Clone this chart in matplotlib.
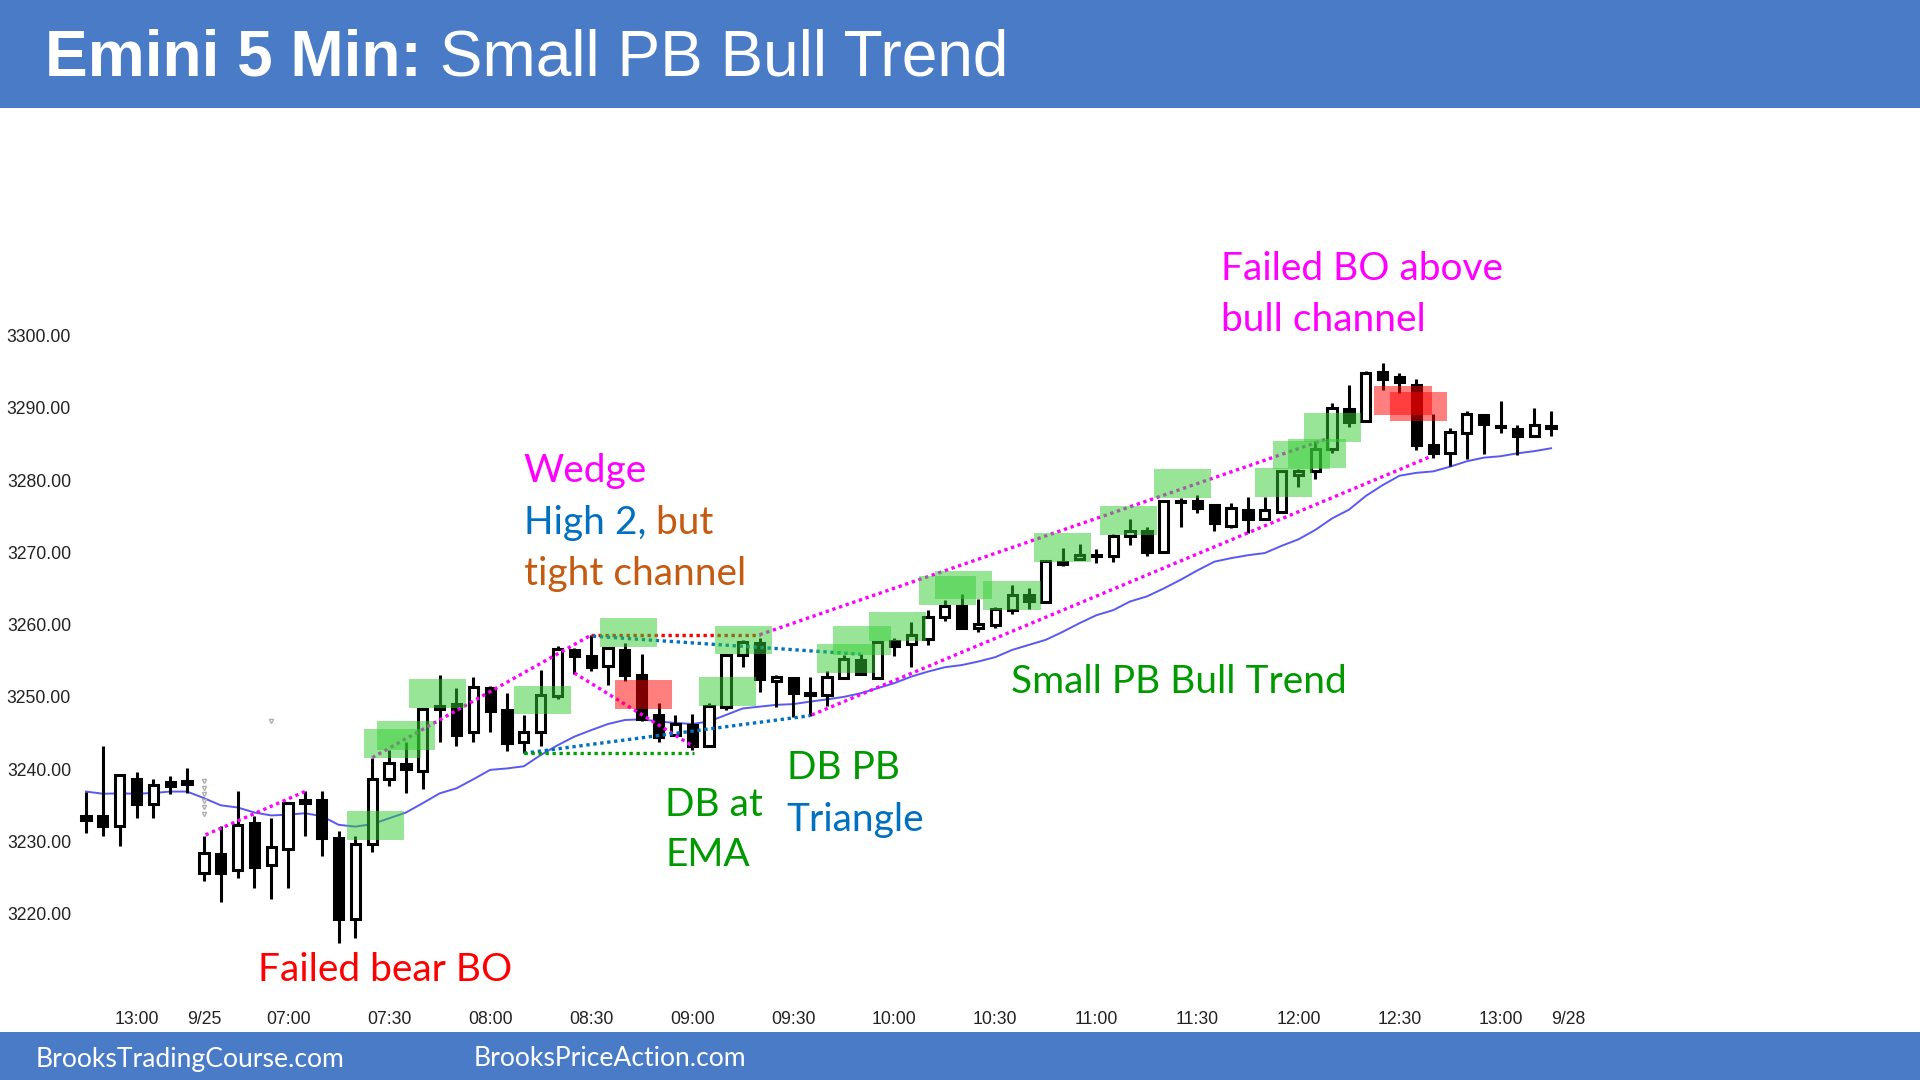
import numpy as np
import matplotlib
matplotlib.use("Agg")
import matplotlib.pyplot as plt
from matplotlib.patches import Rectangle
from matplotlib.text import Annotation

# 5 min bars (12:45 prev day .. 13:15)
opens = [3233.5, 3233.5, 3232.2, 3238.7, 3235.2, 3238.2, 3238.3, 3225.7, 3228.2, 3226.0,
         3232.6, 3226.8, 3229.0, 3235.3, 3235.7, 3230.5, 3219.3, 3229.6, 3238.6, 3240.7,
         3239.8, 3248.3, 3249.0, 3245.1, 3251.2, 3248.2, 3243.8, 3245.1, 3250.1, 3256.5,
         3255.7, 3254.3, 3256.5, 3253.0, 3247.5, 3244.7, 3246.1, 3243.2, 3248.6, 3255.8,
         3257.5, 3252.2, 3252.6, 3250.6, 3250.3, 3252.6, 3255.1, 3252.6, 3257.7, 3257.3,
         3258.0, 3261.1, 3262.6, 3259.6, 3260.0, 3262.0, 3264.1, 3263.1, 3268.7, 3269.1,
         3269.7, 3269.5, 3272.3, 3273.0, 3270.1, 3277.1, 3277.1, 3276.5, 3273.6, 3275.9,
         3274.6, 3275.6, 3280.7, 3281.3, 3284.3, 3289.9, 3288.2, 3295.0, 3294.2, 3293.1,
         3284.9, 3283.7, 3286.5, 3289.0, 3287.5, 3287.1, 3286.1, 3287.5]
highs = [3236.9, 3243.2, 3239.3, 3239.6, 3238.7, 3239.1, 3240.2, 3230.7, 3232.2, 3237.0,
         3233.5, 3233.2, 3235.3, 3237.0, 3237.0, 3231.5, 3230.7, 3241.6, 3242.6, 3243.7,
         3248.4, 3253.0, 3251.2, 3252.7, 3251.5, 3250.5, 3247.5, 3253.7, 3257.0, 3256.7,
         3258.5, 3256.9, 3257.5, 3256.0, 3249.2, 3247.5, 3247.7, 3249.1, 3255.8, 3257.9,
         3258.1, 3253.0, 3252.7, 3252.7, 3253.6, 3255.8, 3256.0, 3257.6, 3258.1, 3260.4,
         3262.0, 3263.4, 3264.2, 3263.5, 3262.5, 3265.5, 3265.1, 3268.8, 3270.6, 3271.1,
         3270.5, 3272.5, 3274.6, 3273.5, 3277.1, 3277.5, 3278.0, 3276.6, 3276.8, 3277.6,
         3277.6, 3281.4, 3281.6, 3285.4, 3290.7, 3293.2, 3295.1, 3296.2, 3294.8, 3294.0,
         3289.2, 3287.2, 3289.5, 3289.0, 3291.0, 3287.6, 3290.0, 3289.5]
lows = [3231.2, 3230.7, 3229.3, 3233.2, 3233.2, 3236.6, 3236.7, 3224.5, 3221.6, 3225.0,
        3223.6, 3222.0, 3223.5, 3230.7, 3228.0, 3216.0, 3216.7, 3228.5, 3237.7, 3236.7,
        3237.2, 3243.7, 3243.2, 3243.7, 3245.2, 3242.5, 3242.2, 3243.2, 3249.7, 3253.2,
        3253.6, 3251.7, 3252.2, 3246.6, 3243.7, 3244.6, 3242.6, 3243.1, 3248.2, 3254.2,
        3250.7, 3248.6, 3247.2, 3247.4, 3248.7, 3252.5, 3253.1, 3252.5, 3255.7, 3254.2,
        3257.2, 3260.5, 3259.5, 3259.0, 3259.5, 3261.5, 3262.1, 3263.1, 3268.1, 3269.1,
        3268.5, 3268.7, 3271.0, 3269.5, 3270.1, 3273.5, 3275.5, 3273.0, 3273.4, 3272.7,
        3274.6, 3275.5, 3279.0, 3280.2, 3283.7, 3287.4, 3288.2, 3292.5, 3292.0, 3284.2,
        3283.0, 3282.0, 3282.9, 3283.6, 3286.5, 3283.5, 3286.0, 3286.1]
closes = [3233.0, 3232.1, 3239.2, 3235.2, 3237.8, 3237.7, 3237.9, 3228.4, 3225.7, 3232.3,
          3226.5, 3229.2, 3235.3, 3235.8, 3230.5, 3219.2, 3229.6, 3238.7, 3240.8, 3240.0,
          3248.3, 3248.8, 3244.7, 3251.3, 3248.0, 3243.6, 3245.1, 3250.2, 3256.6, 3255.6,
          3254.2, 3256.8, 3253.0, 3247.0, 3244.5, 3246.3, 3243.2, 3248.8, 3255.8, 3257.6,
          3252.5, 3252.8, 3250.5, 3250.3, 3252.8, 3255.3, 3253.1, 3257.6, 3257.1, 3258.6,
          3261.1, 3262.6, 3259.6, 3260.1, 3262.1, 3264.1, 3263.2, 3268.8, 3268.4, 3269.6,
          3269.5, 3272.3, 3272.9, 3270.0, 3277.1, 3276.9, 3276.2, 3274.0, 3276.1, 3274.6,
          3275.8, 3281.2, 3281.2, 3284.3, 3290.0, 3288.0, 3294.8, 3294.0, 3293.5, 3284.9,
          3283.7, 3286.6, 3289.1, 3287.7, 3287.3, 3286.1, 3287.6, 3287.2]
ema20 = [3236.9, 3236.6, 3236.65, 3236.6, 3236.7, 3236.9, 3236.9, 3236.0, 3235.0, 3234.7,
         3234.0, 3233.6, 3233.7, 3233.9, 3233.5, 3232.3, 3232.05, 3232.4, 3233.2, 3234.0,
         3235.3, 3236.65, 3237.35, 3238.6, 3239.9, 3240.1, 3240.4, 3241.95, 3243.3, 3244.5,
         3245.4, 3246.25, 3246.8, 3246.9, 3246.6, 3246.4, 3246.25, 3246.6, 3247.5, 3248.4,
         3248.65, 3248.9, 3249.0, 3249.35, 3249.65, 3250.0, 3250.5, 3251.2, 3251.9, 3252.8,
         3253.5, 3254.1, 3254.4, 3254.9, 3255.5, 3256.5, 3257.2, 3257.9, 3259.0, 3260.2,
         3261.3, 3262.0, 3263.2, 3263.9, 3265.0, 3266.2, 3267.5, 3268.7, 3269.2, 3269.6,
         3269.9, 3270.9, 3271.8, 3273.1, 3274.7, 3275.9, 3277.8, 3279.3, 3280.6, 3281.0,
         3281.2, 3281.85, 3282.6, 3283.1, 3283.3, 3283.7, 3284.0, 3284.4]

tick_bars = [3, 7, 12, 18, 24, 30, 36, 42, 48, 54, 60, 66, 72, 78, 84, 88]
tick_labels = ["13:00", "9/25", "07:00", "07:30", "08:00", "08:30", "09:00", "09:30",
               "10:00", "10:30", "11:00", "11:30", "12:00", "12:30", "13:00", "9/28"]
price_ticks = [3220, 3230, 3240, 3250, 3260, 3270, 3280, 3290, 3300]

# signal bar boxes (left bar position, bottom price)
green_left = [15.48, 16.51, 17.3, 19.18, 25.42, 30.52, 36.4, 37.35, 43.43, 44.38, 46.5,
              49.47, 50.4, 53.28, 56.3, 60.2, 63.4, 69.4, 70.47, 71.4, 72.3]
green_bottom = [3230.2, 3241.6, 3242.65, 3248.5, 3247.6, 3256.9, 3248.8, 3255.9, 3253.3,
                3255.8, 3257.8, 3262.7, 3263.5, 3262.0, 3268.7, 3272.4, 3277.5, 3277.7,
                3281.5, 3281.7, 3285.3]
red_left = [31.4, 76.5, 77.43]
red_bottom = [3248.3, 3289.0, 3288.2]
BOX_W, BOX_H = 3.41, 3.97

# dotted trend lines: (x0, y0, x1, y1, colour)
trend_lines = [
    (7.1, 3230.9, 13.0, 3236.9, "#ff00ff"),
    (17.0, 3241.6, 30.0, 3258.55, "#ff00ff"),
    (29.0, 3253.3, 36.1, 3243.1, "#ff00ff"),
    (30.0, 3258.6, 40.0, 3258.6, "#ff0000"),
    (30.1, 3258.4, 46.0, 3255.9, "#0070c0"),
    (26.0, 3242.2, 43.0, 3247.4, "#0070c0"),
    (26.0, 3242.2, 36.1, 3242.2, "#00a000"),
    (40.0, 3258.6, 73.8, 3285.8, "#ff00ff"),
    (43.1, 3247.5, 79.9, 3283.3, "#ff00ff"),
]

BLUE = "#4a7bc7"
MAG, TBLUE, ORANGE, GREEN, RED = "#ff00ff", "#0070c0", "#c55a11", "#009a00", "#ff0000"

plt.rcParams['font.family'] = ['Lato', 'DejaVu Sans']

fig = plt.figure(figsize=(19.2, 10.8), dpi=100)
L, R, T, B = 76, 1920, 108, 1000
ax = fig.add_axes([L / 1920, (1080 - B) / 1080, (R - L) / 1920, (B - T) / 1080])
ax.set_xlim(-0.594, 108.91)
ax.set_ylim(3208.06, 3331.48)
ax.patch.set_visible(False)
for s in ax.spines.values():
    s.set_visible(False)

x = np.arange(len(opens))
o, h, l, c = map(np.array, (opens, highs, lows, closes))
up = c >= o
body_lo = np.minimum(o, c)
body_h = np.maximum(np.abs(c - o), 0.12)

ax.plot(x, ema20, color="#3c3cf0", lw=1.4, alpha=0.85, zorder=2)
ax.vlines(x, l, h, color="black", lw=2.2, zorder=3)
ax.bar(x, body_h, bottom=body_lo, width=0.55,
       color=np.where(up, "white", "black"), edgecolor="black", linewidth=2.2, zorder=4)

# session markers
ax.plot([7] * 6, [3238.3, 3237.4, 3236.5, 3235.6, 3234.7, 3233.8], "v",
        color="#b0b0b0", ms=3, mfc="none", zorder=2)
ax.plot([11], [3246.6], "v", color="#b0b0b0", ms=3, mfc="none", zorder=2)

for x0, y0, x1, y1, col in trend_lines:
    ax.plot([x0, x1], [y0, y1], color=col, lw=2.4, linestyle=(0, (1, 1.1)), zorder=5)

for xl, yb in zip(green_left, green_bottom):
    ax.add_patch(Rectangle((xl, yb), BOX_W, BOX_H, facecolor="#33cc33", alpha=0.5,
                           edgecolor="none", zorder=6))
for xl, yb in zip(red_left, red_bottom):
    ax.add_patch(Rectangle((xl, yb), BOX_W, BOX_H, facecolor="#ff0000", alpha=0.5,
                           edgecolor="none", zorder=6))

ax.set_xticks(tick_bars, tick_labels)
ax.set_yticks(price_ticks, [f"{p:.2f}" for p in price_ticks])
ax.tick_params(axis="x", length=0, pad=8.2, labelsize=12.7, labelcolor="#222222")
ax.tick_params(axis="y", length=0, pad=3.6, labelsize=12.7, labelcolor="#222222")
for lab in ax.get_xticklabels() + ax.get_yticklabels():
    lab.set_family("Liberation Sans")

# annotations
fs = 28
kw = dict(fontsize=fs, va="center", ha="left", zorder=8)
ax.text(26.0, 3281.2, "Wedge", color=MAG, **kw)
t_h2 = ax.text(26.0, 3274.1, "High 2,", color=TBLUE, **kw)
ax.annotate(" but", xy=(1, 0), xycoords=t_h2, va="bottom", ha="left",
            fontsize=fs, color=ORANGE)
ax.text(26.0, 3267.0, "tight channel", color=ORANGE, **kw)
ax.text(67.4, 3309.2, "Failed BO above", color=MAG, **kw)
ax.text(67.4, 3302.1, "bull channel", color=MAG, **kw)
ax.text(54.95, 3252.0, "Small PB Bull Trend", color=GREEN, **kw)
ax.text(41.6, 3240.1, "DB PB", color=GREEN, **kw)
ax.text(41.6, 3233.0, "Triangle", color=TBLUE, **kw)
ax.text(34.4, 3235.0, "DB at", color=GREEN, **kw)
ax.text(34.4, 3228.1, "EMA", color=GREEN, **kw)
ax.text(10.2, 3212.2, "Failed bear BO", color=RED, **kw)

# title and footer bars
fig.add_artist(Rectangle((0, 1 - 108 / 1080), 1, 108 / 1080, transform=fig.transFigure,
                         facecolor=BLUE, edgecolor="none", zorder=1))
fig.add_artist(Rectangle((0, 0), 1, 48 / 1080, transform=fig.transFigure,
                         facecolor=BLUE, edgecolor="none", zorder=1))
t1 = fig.text(45 / 1920, 1 - 59 / 1080, "Emini 5 Min:", fontsize=46.1, fontweight="bold",
              color="white", va="center", ha="left", family="Liberation Sans", zorder=2)
fig.add_artist(Annotation(" Small PB Bull Trend", xy=(1, 0), xycoords=t1, va="bottom",
                          ha="left", fontsize=46.1, color="white", family="Liberation Sans",
                          zorder=2))
fig.text(35.5 / 1920, 1 - 1059 / 1080, "BrooksTradingCourse.com", fontsize=19.1,
         color="white", va="center", ha="left", zorder=2)
fig.text(474 / 1920, 1 - 1059 / 1080, "BrooksPriceAction.com", fontsize=19.1,
         color="white", va="center", ha="left", zorder=2)

fig.savefig("out.png", dpi=100)
